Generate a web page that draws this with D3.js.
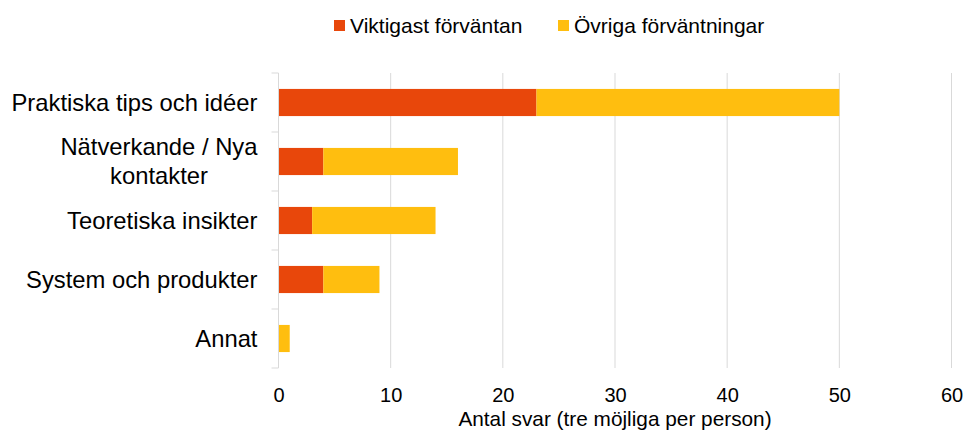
<!DOCTYPE html>
<html>
<head>
<meta charset="utf-8">
<script src="https://cdn.jsdelivr.net/npm/d3@7"></script>
<style>
  body { margin: 0; background: #fff; }
  svg { display: block; font-family: "Liberation Sans", Arial, sans-serif; }
</style>
</head>
<body>
<svg width="966" height="436"></svg>
<script>
// data
var categories = ["Praktiska tips och idéer", "Nätverkande / Nya kontakter", "Teoretiska insikter", "System och produkter", "Annat"];
var labelLines = [["Praktiska tips och idéer"], ["Nätverkande / Nya", "kontakter"], ["Teoretiska insikter"], ["System och produkter"], ["Annat"]];
var viktigast = [23, 4, 3, 4, 0];
var ovriga = [27, 12, 11, 5, 1];
var seriesNames = ["Viktigast förväntan", "Övriga förväntningar"];
var colors = ["#e8470b", "#ffbe0f"];
var xTicks = [0, 10, 20, 30, 40, 50, 60];

var svg = d3.select("svg"),
    margin = {top: 73, right: 15, bottom: 68, left: 278.5},
    width = 673,
    height = 295;

var g = svg.append("g")
    .attr("transform", "translate(" + margin.left + "," + margin.top + ")");

var x = d3.scaleLinear().domain([0, 60]).range([0, width]);
var y = d3.scaleBand().domain(categories).range([0, height]).paddingInner(0.54).paddingOuter(0.27);

var rows = categories.map(function(c, i) {
  return {cat: c, v0: viktigast[i], v1: ovriga[i]};
});
var stack = d3.stack().keys(["v0", "v1"])(rows);

// grid lines
g.selectAll(".grid")
  .data(xTicks.slice(1))
  .enter().append("line")
    .attr("class", "grid")
    .attr("x1", function(d) { return x(d); })
    .attr("x2", function(d) { return x(d); })
    .attr("y1", 0)
    .attr("y2", height)
    .attr("stroke", "#d9d9d9")
    .attr("stroke-width", 1);

// bars
g.selectAll(".layer")
  .data(stack)
  .enter().append("g")
    .attr("class", "layer")
    .attr("fill", function(d, i) { return colors[i]; })
  .selectAll("rect")
  .data(function(d) { return d; })
  .enter().append("rect")
    .attr("x", function(d) { return x(d[0]); })
    .attr("y", function(d) { return y(d.data.cat); })
    .attr("width", function(d) { return x(d[1]) - x(d[0]); })
    .attr("height", y.bandwidth());

// y axis line + ticks between bands
var yAxis = g.append("g").attr("class", "axis axis--y");
yAxis.append("line")
    .attr("x1", 0).attr("x2", 0)
    .attr("y1", 0).attr("y2", height)
    .attr("stroke", "#d9d9d9");
yAxis.selectAll(".ytick")
  .data(d3.range(categories.length + 1))
  .enter().append("line")
    .attr("x1", -7).attr("x2", 0)
    .attr("y1", function(d) { return d * height / categories.length; })
    .attr("y2", function(d) { return d * height / categories.length; })
    .attr("stroke", "#d9d9d9");

// category labels
var lab = yAxis.selectAll(".ylab")
  .data(categories)
  .enter().append("text")
    .attr("class", "ylab")
    .attr("font-size", 23.8)
    .attr("fill", "#000")
    .attr("text-anchor", "end")
    .attr("transform", function(d) { return "translate(-21," + (y(d) + y.bandwidth() / 2) + ")"; });

lab.each(function(d, i) {
  var lines = labelLines[i];
  var t = d3.select(this);
  var lh = 29;
  t.selectAll("tspan")
    .data(lines)
    .enter().append("tspan")
      .attr("x", 0)
      .attr("y", function(l, j) { return (j - (lines.length - 1) / 2) * lh; })
      .attr("dy", "0.35em")
      .text(function(l) { return l; });
});

// center second line of wrapped label under first line
lab.each(function(d, i) {
  var spans = d3.select(this).selectAll("tspan").nodes();
  if (spans.length > 1) {
    var w0 = spans[0].getComputedTextLength();
    spans.forEach(function(s) {
      d3.select(s).attr("text-anchor", "middle").attr("x", -w0 / 2);
    });
  }
});

// x axis labels
var xAxis = g.append("g")
    .attr("class", "axis axis--x")
    .attr("transform", "translate(0," + height + ")")
    .call(d3.axisBottom(x).tickValues(xTicks).tickSize(0).tickPadding(20));
xAxis.select(".domain").remove();
xAxis.selectAll("text")
    .attr("font-size", 20)
    .attr("font-family", "'Liberation Sans', Arial, sans-serif")
    .attr("fill", "#000");

g.append("text")
    .attr("x", x(30))
    .attr("y", height + 57.5)
    .attr("text-anchor", "middle")
    .attr("font-size", 20.8)
    .attr("fill", "#000")
    .text("Antal svar (tre möjliga per person)");

// legend
var legendX = [334, 558];
var legend = svg.append("g").attr("class", "legend");
seriesNames.forEach(function(name, i) {
  legend.append("rect")
    .attr("x", legendX[i]).attr("y", 20)
    .attr("width", 11).attr("height", 11)
    .attr("fill", colors[i]);
  legend.append("text")
    .attr("x", legendX[i] + 16).attr("y", 25.5)
    .attr("dy", "0.35em")
    .attr("font-size", 21)
    .attr("fill", "#000")
    .text(name);
});
</script>
</body>
</html>
